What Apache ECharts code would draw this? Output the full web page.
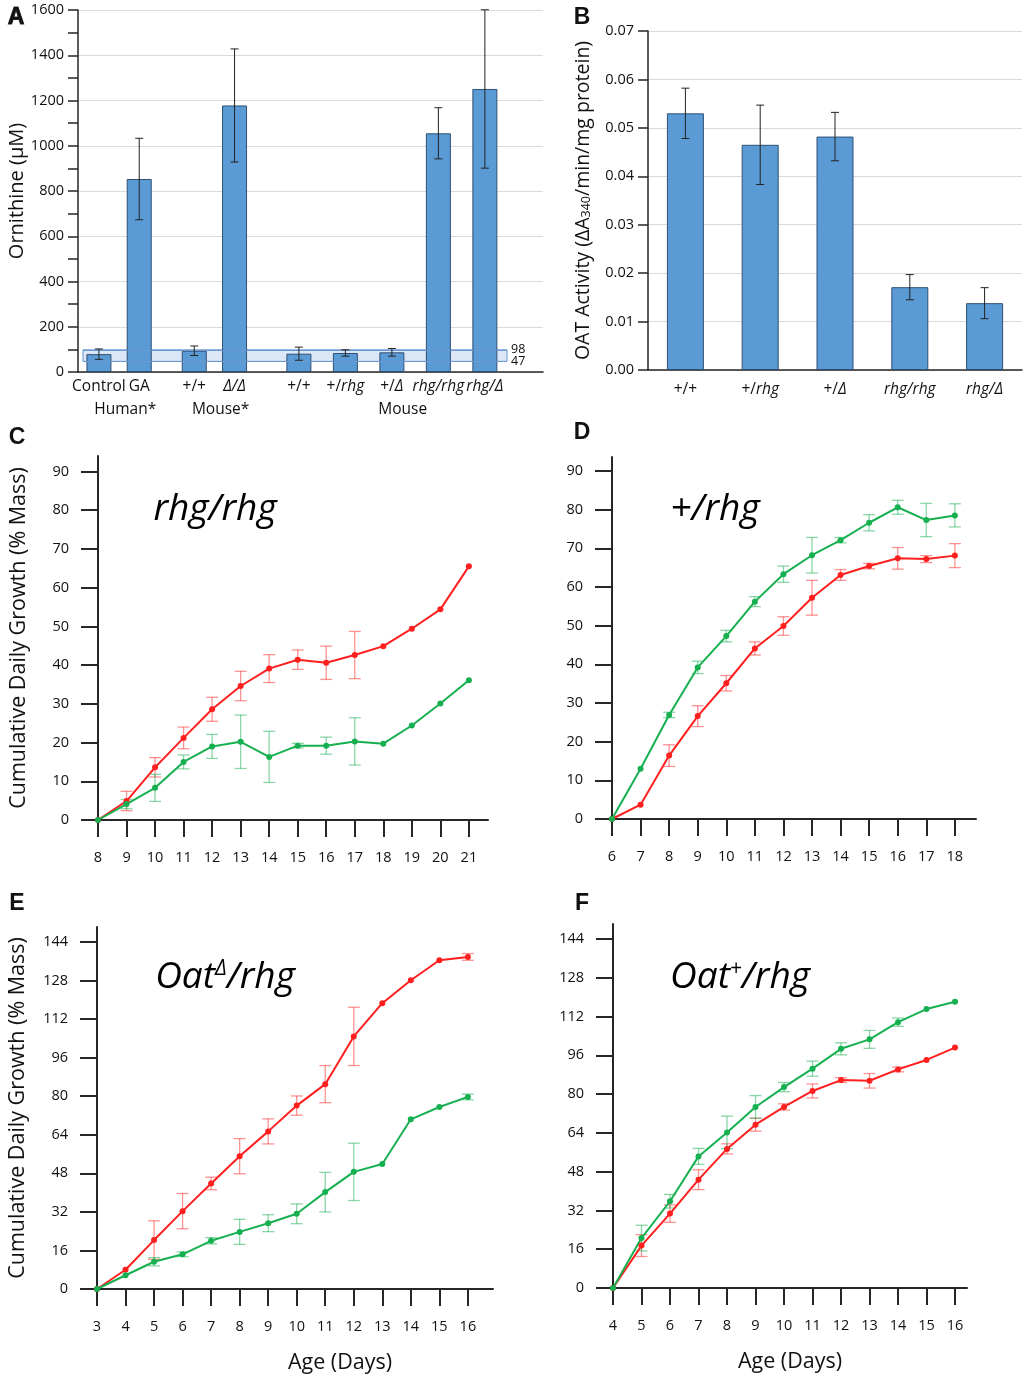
<!DOCTYPE html>
<html>
<head>
<meta charset="utf-8">
<script src="https://cdn.jsdelivr.net/npm/echarts@6.0.0/dist/echarts.min.js"></script>
<style>
  html, body { margin: 0; padding: 0; background: #fff; }
  #chart { width: 1027px; height: 1379px; }
</style>
</head>
<body>
<div id="chart"></div>
<script>
// ---- Panel A: plasma ornithine ----
const ornLabels = ['Control', 'GA', '+/+', 'Δ/Δ', '+/+', '+/rhg', '+/Δ', 'rhg/rhg', 'rhg/Δ'];
const ornGroups = ['Human*', 'Mouse*', 'Mouse'];
const ornGroupSize = [2, 2, 5];
const ornMean = [79, 853, 94, 1178, 81, 84, 87, 1055, 1251];
const ornErr = [23, 180, 21, 250, 29, 14, 17, 113, 350];
const ornBand = [47, 98];

// ---- Panel B: OAT activity ----
const oatLabels = ['+/+', '+/rhg', '+/Δ', 'rhg/rhg', 'rhg/Δ'];
const oatMean = [0.0530, 0.0465, 0.0482, 0.0171, 0.0138];
const oatErr = [0.0052, 0.0082, 0.0050, 0.0026, 0.0032];

// ---- Panel C: rhg/rhg ----
const daysC = [8, 9, 10, 11, 12, 13, 14, 15, 16, 17, 18, 19, 20, 21];
const cRed = [0, 4.9, 13.6, 21.2, 28.6, 34.6, 39.1, 41.4, 40.6, 42.6, 44.9, 49.4, 54.4, 65.5];
const cRedErr = [0, 2.5, 2.5, 2.8, 3.1, 3.8, 3.6, 2.5, 4.3, 6.1, 0, 0, 0, 0];
const cGreen = [0, 4.1, 8.3, 15.0, 19.0, 20.2, 16.3, 19.2, 19.2, 20.3, 19.7, 24.4, 30.1, 36.1];
const cGreenErr = [0, 1.2, 3.5, 1.8, 3.1, 6.9, 6.6, 0.6, 2.2, 6.1, 0, 0, 0, 0];

// ---- Panel D: +/rhg ----
const daysD = [6, 7, 8, 9, 10, 11, 12, 13, 14, 15, 16, 17, 18];
const dRed = [0, 3.7, 16.4, 26.6, 35.1, 44.1, 49.9, 57.2, 63.1, 65.4, 67.4, 67.2, 68.1];
const dRedErr = [0, 0, 2.8, 2.7, 2.0, 1.7, 2.4, 4.5, 1.4, 0.7, 2.8, 0.9, 3.1];
const dGreen = [0, 13.0, 26.9, 39.2, 47.3, 56.2, 63.3, 68.2, 72.1, 76.6, 80.6, 77.3, 78.5];
const dGreenErr = [0, 0, 0.7, 1.6, 1.5, 1.3, 2.1, 4.6, 0.7, 2.1, 1.8, 4.3, 3.0];

// ---- Panel E: Oat delta / rhg ----
const daysE = [3, 4, 5, 6, 7, 8, 9, 10, 11, 12, 13, 14, 15, 16];
const eRed = [0, 8.0, 20.3, 32.3, 43.8, 55.1, 65.4, 76.1, 85.0, 104.8, 118.6, 128.1, 136.4, 137.8];
const eRedErr = [0, 0, 8.0, 7.3, 2.6, 7.3, 5.2, 4.0, 7.7, 12.1, 0, 0, 0, 1.4];
const eGreen = [0, 5.7, 11.3, 14.4, 20.0, 23.7, 27.3, 31.2, 40.2, 48.6, 51.9, 70.4, 75.5, 79.7];
const eGreenErr = [0, 0, 1.7, 1.0, 1.3, 5.2, 3.5, 4.1, 8.2, 11.9, 0, 0, 0, 1.2];

// ---- Panel F: Oat+ / rhg ----
const daysF = [4, 5, 6, 7, 8, 9, 10, 11, 12, 13, 14, 15, 16];
const fRed = [0, 17.5, 30.7, 44.7, 57.4, 67.4, 74.7, 81.3, 85.8, 85.5, 90.2, 94.1, 99.2];
const fRedErr = [0, 4.5, 3.6, 4.1, 2.1, 2.7, 1.3, 2.9, 1.0, 3.0, 1.0, 0, 0];
const fGreen = [0, 20.6, 35.8, 54.3, 64.2, 74.7, 82.9, 90.5, 98.7, 102.6, 109.7, 115.1, 118.1];
const fGreenErr = [0, 5.3, 2.8, 3.3, 6.7, 4.7, 1.9, 3.1, 2.5, 3.7, 1.7, 0, 0];

const ticks10 = [0, 10, 20, 30, 40, 50, 60, 70, 80, 90];
const ticks16 = [0, 16, 32, 48, 64, 80, 96, 112, 128, 144];

const FONT = 'Open Sans';
const INK = '#111';
const AXIS = '#262626';
const RED = '#ff1f1f';
const GREEN = '#16b050';
const BLUE = '#5b9bd5';

// layout of panel A along a 0..30 value axis (group start, pitch)
const groupStart = [1.35, 7.5, 14.25];
const groupPitch = [2.6, 2.6, 3.0];
const ornPos = [];
ornGroupSize.forEach((n, g) => { for (let k = 0; k < n; k++) ornPos.push(groupStart[g] + k * groupPitch[g]); });
const groupCenters = [
  (ornPos[0] + ornPos[1]) / 2 + 0.4,
  (ornPos[2] + ornPos[3]) / 2 + 0.4,
  (ornPos[4] + ornPos[8]) / 2 + 0.7
];

function geno(s) {
  if (s.indexOf('/') < 0) return '{n|' + s + '}';
  const [l, r] = s.split('/');
  return (l !== '+' ? '{i|' + l + '/}' : '{n|' + l + '/}') + (r !== '+' ? '{i|' + r + '}' : '{n|' + r + '}');
}
const genoRich = {
  n: { fontFamily: FONT, fontSize: 15.5, color: INK },
  i: { fontFamily: FONT, fontSize: 15.5, color: INK, fontStyle: 'italic' }
};
function lookup(list, values, v) {
  for (let k = 0; k < values.length; k++) if (Math.abs(values[k] - v) < 1e-6) return list[k];
  return '';
}

function errRender(capHalf, color, width) {
  return function (params, api) {
    const e = api.value(2);
    if (!e) return;
    const x = api.value(0), y = api.value(1);
    const hi = api.coord([x, y + e]);
    const lo = api.coord([x, y - e]);
    const st = { stroke: color, lineWidth: width };
    return {
      type: 'group',
      children: [
        { type: 'line', shape: { x1: hi[0], y1: hi[1], x2: lo[0], y2: lo[1] }, style: st },
        { type: 'line', shape: { x1: hi[0] - capHalf, y1: hi[1], x2: hi[0] + capHalf, y2: hi[1] }, style: st },
        { type: 'line', shape: { x1: lo[0] - capHalf, y1: lo[1], x2: lo[0] + capHalf, y2: lo[1] }, style: st }
      ]
    };
  };
}

const grid = [
  { left: 78, top: 10, width: 465, height: 362 },
  { left: 648, top: 31, width: 374, height: 339 },
  { left: 98, top: 456, width: 390, height: 364 },
  { left: 612, top: 457, width: 364, height: 362 },
  { left: 97, top: 927, width: 396, height: 362 },
  { left: 613, top: 924, width: 354, height: 364 }
];

const tickLabel = { fontFamily: FONT, fontSize: 14.5, color: INK };

const xAxis = [
  {
    gridIndex: 0, type: 'value', min: 0, max: 30,
    axisLine: { lineStyle: { color: AXIS, width: 1.5 } },
    axisTick: { show: false }, splitLine: { show: false },
    axisLabel: { customValues: ornPos, margin: 7, fontSize: 15.5, fontFamily: FONT, color: INK,
      formatter: v => geno(lookup(ornLabels, ornPos, v)), rich: genoRich }
  },
  {
    gridIndex: 0, type: 'value', min: 0, max: 30, position: 'bottom', offset: 23,
    axisLine: { show: false }, axisTick: { show: false }, splitLine: { show: false },
    axisLabel: { customValues: groupCenters, margin: 7, fontFamily: FONT, fontSize: 15.5, color: INK,
      formatter: v => lookup(ornGroups, groupCenters, v) }
  },
  {
    gridIndex: 1, type: 'category', data: oatLabels,
    axisLine: { lineStyle: { color: AXIS, width: 1.5 } },
    axisTick: { show: false },
    axisLabel: { interval: 0, margin: 12, fontSize: 15.5, fontFamily: FONT, color: INK,
      formatter: v => geno(v), rich: genoRich }
  }
];
const yAxis = [
  {
    gridIndex: 0, type: 'value', min: 0, max: 1600, interval: 200,
    name: 'Ornithine (µM)', nameLocation: 'middle', nameGap: 50,
    nameTextStyle: { fontFamily: FONT, fontSize: 20, color: INK },
    axisLine: { show: true, lineStyle: { color: AXIS, width: 1.5 } },
    axisTick: { show: true, length: 10, lineStyle: { color: AXIS, width: 1.5 } },
    minorTick: { show: true, splitNumber: 2, length: 10, lineStyle: { color: AXIS, width: 1.5 } },
    axisLabel: Object.assign({ margin: 14, formatter: v => String(v) }, tickLabel),
    splitLine: { show: true, lineStyle: { color: '#dadada', width: 1 } }
  },
  {
    gridIndex: 1, type: 'value', min: 0, max: 0.07, interval: 0.01,
    name: '{a|OAT Activity (ΔA}{s|340}{a|/min/mg protein)}', nameLocation: 'middle', nameGap: 55,
    nameTextStyle: { rich: {
      a: { fontFamily: FONT, fontSize: 19.5, color: INK },
      s: { fontFamily: FONT, fontSize: 12.5, color: INK, verticalAlign: 'bottom', lineHeight: 18 }
    } },
    axisLine: { show: true, lineStyle: { color: AXIS, width: 1.5 } },
    axisTick: { show: true, length: 10, lineStyle: { color: AXIS, width: 1.5 } },
    axisLabel: Object.assign({ margin: 14, formatter: v => v.toFixed(2) }, tickLabel),
    splitLine: { show: true, lineStyle: { color: '#dadada', width: 1 } }
  }
];

const series = [
  {
    type: 'bar', xAxisIndex: 0, yAxisIndex: 0, barWidth: 25,
    data: ornPos.map((p, i) => [p, ornMean[i]]),
    itemStyle: { color: BLUE, borderColor: '#2f4f72', borderWidth: 1 },
    z: 3,
    markArea: {
      silent: true,
      itemStyle: { color: '#dbe7f6', borderColor: '#6b98d1', borderWidth: 1 },
      data: [[{ coord: [0.32, ornBand[0]] }, { coord: [27.68, ornBand[1]] }]]
    },
    markLine: {
      silent: true, symbol: ['none', 'none'],
      lineStyle: { color: '#6b98d1', width: 1, type: 'solid' },
      label: { show: true, position: 'end', formatter: '{b}', distance: 4, fontFamily: FONT, fontSize: 12.5, color: INK },
      data: ornBand.map(b => [{ name: String(b), coord: [0.32, b] }, { coord: [27.68, b] }])
    }
  },
  {
    type: 'custom', xAxisIndex: 0, yAxisIndex: 0, z: 5,
    renderItem: errRender(4, '#222', 1),
    encode: { x: 0, y: 1 },
    data: ornPos.map((p, i) => [p, ornMean[i], ornErr[i]])
  },
  {
    type: 'bar', xAxisIndex: 2, yAxisIndex: 1, barWidth: 37,
    data: oatMean,
    itemStyle: { color: BLUE, borderColor: '#2f4f72', borderWidth: 1 }
  },
  {
    type: 'custom', xAxisIndex: 2, yAxisIndex: 1, z: 5,
    renderItem: errRender(4, '#222', 1),
    encode: { x: 0, y: 1 },
    data: oatMean.map((m, i) => [i, m, oatErr[i]])
  }
];

const linePanels = [
  { days: daysC, red: cRed, redErr: cRedErr, green: cGreen, greenErr: cGreenErr, xMax: 21.67, yMax: 94, yTicks: ticks10, yName: true, xName: false },
  { days: daysD, red: dRed, redErr: dRedErr, green: dGreen, greenErr: dGreenErr, xMax: 18.74, yMax: 93.6, yTicks: ticks10, yName: false, xName: false },
  { days: daysE, red: eRed, redErr: eRedErr, green: eGreen, greenErr: eGreenErr, xMax: 16.88, yMax: 150.2, yTicks: ticks16, yName: true, xName: true, nameShift: 90 },
  { days: daysF, red: fRed, redErr: fRedErr, green: fGreen, greenErr: fGreenErr, xMax: 16.42, yMax: 150.2, yTicks: ticks16, yName: false, xName: true, nameShift: 0 }
];

linePanels.forEach((p, k) => {
  const g = k + 2;
  const axLine = { lineStyle: { color: AXIS, width: 2 } };
  const axTick = { show: true, length: 17, lineStyle: { color: AXIS, width: 2 } };
  xAxis.push({
    gridIndex: g, type: 'value', min: p.days[0], max: p.xMax,
    axisLine: axLine,
    axisTick: Object.assign({ customValues: p.days }, axTick),
    axisLabel: Object.assign({ customValues: p.days, margin: 30 }, tickLabel),
    splitLine: { show: false },
    name: p.xName ? 'Age (Days)' : '', nameLocation: 'middle', nameGap: 63,
    nameTextStyle: { fontFamily: FONT, fontSize: 21.5, color: INK, padding: [0, 0, 0, p.nameShift || 0] }
  });
  yAxis.push({
    gridIndex: g, type: 'value', min: 0, max: p.yMax,
    axisLine: { show: true, lineStyle: axLine.lineStyle },
    axisTick: Object.assign({ customValues: p.yTicks }, axTick),
    axisLabel: Object.assign({ customValues: p.yTicks, margin: 29 }, tickLabel),
    splitLine: { show: false },
    name: p.yName ? 'Cumulative Daily Growth (% Mass)' : '', nameLocation: 'middle', nameGap: 68,
    nameTextStyle: { fontFamily: FONT, fontSize: 21.5, color: INK }
  });
  const xi = xAxis.length - 1, yi = yAxis.length - 1;
  [['rgba(255,40,40,0.5)', p.red, p.redErr], ['rgba(22,176,80,0.5)', p.green, p.greenErr]].forEach(([c, v, e]) => {
    series.push({
      type: 'custom', xAxisIndex: xi, yAxisIndex: yi, z: 2,
      renderItem: errRender(6, c, 1.3), encode: { x: 0, y: 1 },
      data: p.days.map((d, i) => [d, v[i], e[i]])
    });
  });
  [[RED, p.red], [GREEN, p.green]].forEach(([c, v]) => {
    series.push({
      type: 'line', xAxisIndex: xi, yAxisIndex: yi, z: 3,
      symbol: 'circle', symbolSize: 6, showSymbol: true,
      lineStyle: { color: c, width: 2 }, itemStyle: { color: c },
      data: p.days.map((d, i) => [d, v[i]])
    });
  });
});

const letter = (t, x, y) => ({ type: 'text', x, y, style: { text: t, font: 'bold 23px "Liberation Sans"', fill: '#111', textAlign: 'center', textVerticalAlign: 'middle' } });
const titleRich = {
  i: { fontFamily: FONT, fontSize: 37, fontStyle: 'italic', color: '#111' },
  sup: { fontFamily: FONT, fontSize: 21, fontStyle: 'italic', color: '#111', verticalAlign: 'top' }
};
const title = (t, x, y) => ({ type: 'text', x, y, style: { text: t, rich: titleRich, textAlign: 'center', textVerticalAlign: 'middle' } });

const chart = echarts.init(document.getElementById('chart'));
chart.setOption({
  animation: false,
  backgroundColor: '#fff',
  grid, xAxis, yAxis, series,
  graphic: [
    letter('A', 16, 18), letter('B', 582, 18), letter('C', 17, 438),
    letter('D', 582, 433), letter('E', 17, 904), letter('F', 582, 904),
    title('{i|rhg/rhg}', 215, 509), title('{i|+/rhg}', 715, 509),
    title('{i|Oat}{sup|Δ}{i|/rhg}', 225, 977), title('{i|Oat}{sup|+}{i|/rhg}', 740, 977)
  ]
});

// underline beneath the "Mouse" genotype labels
const uL = chart.convertToPixel({ xAxisIndex: 0 }, ornPos[4]) - 14;
const uR = chart.convertToPixel({ xAxisIndex: 0 }, ornPos[8]) + 23;
const uY = chart.convertToPixel({ yAxisIndex: 0 }, 0) + 26;
chart.setOption({
  graphic: [{ type: 'line', shape: { x1: uL, y1: uY, x2: uR, y2: uY }, style: { stroke: '#333', lineWidth: 1 } }]
});
</script>
</body>
</html>
